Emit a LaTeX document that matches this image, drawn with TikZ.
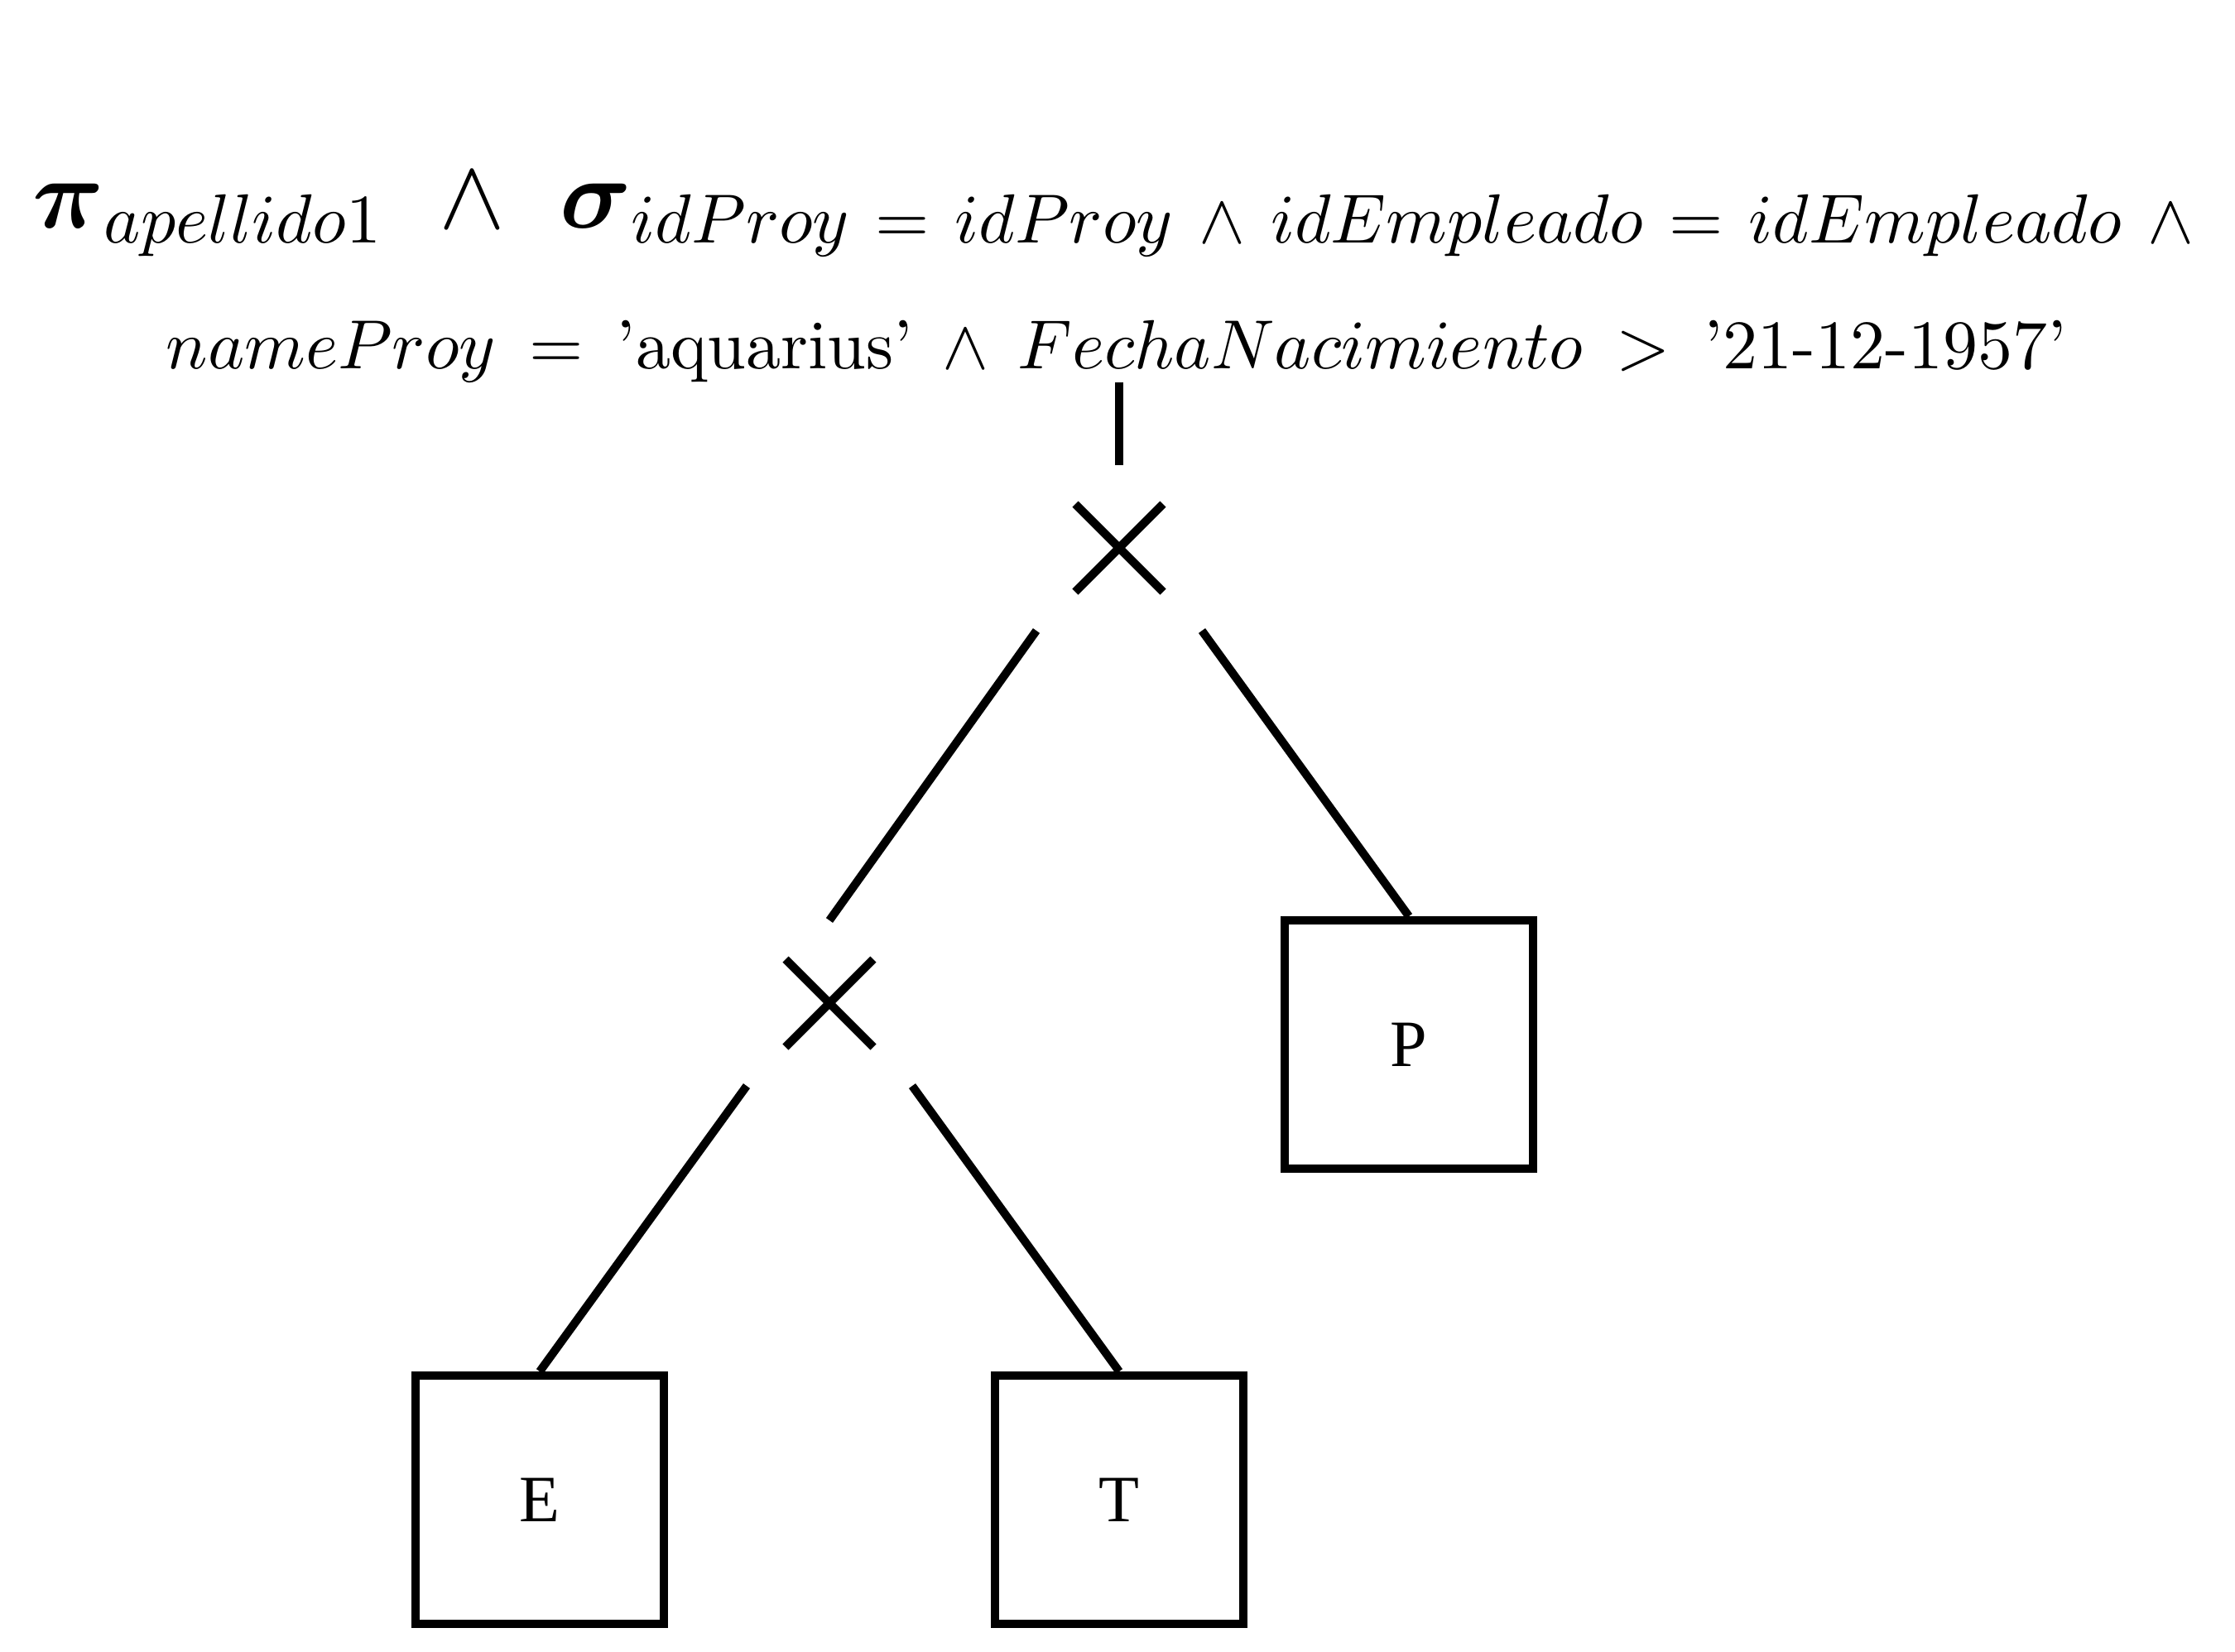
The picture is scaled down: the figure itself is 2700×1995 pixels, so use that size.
\RequirePackage{fix-cm}
\documentclass[tikz,border=0pt]{standalone}
\usepackage{amsmath}
\usepackage{graphicx}
\usepackage{fontspec}
\newfontfamily\boxfont{Liberation Serif}
\usetikzlibrary{shapes.misc}
\DeclareMathSizes{14.2857}{14.2857}{10}{7}
\newcommand{\sgap}{\hskip3.7pt}
\newcommand{\tgap}{\hskip2pt}
\tikzset{
  edge/.style={line width=1pt, draw=black},
  relbox/.style={draw=black, line width=1pt, minimum size=30pt, inner sep=0pt, font=\boxfont\fontsize{8}{9.6}\selectfont},
  joinop/.style={cross out, draw=black, line width=1pt, minimum size=9.6pt, inner sep=0pt},
  formula/.style={anchor=base, inner sep=0pt}
}
\begin{document}
\begin{tikzpicture}[x=0.1pt,y=-0.1pt]
\useasboundingbox (0,0) rectangle (2700,1995);
% formula
\node[formula] (proj) at (1347,275)
  {\scalebox{0.84}{\fontsize{14.2857}{17}\selectfont $\boldsymbol{\pi}_{apellido1}\ \wedge\ \boldsymbol{\sigma}_{idProy\sgap=\sgap idProy\sgap\wedge\sgap idEmpleado\sgap=\sgap idEmpleado\sgap\wedge}$}};
\node[formula] (cond) at (1349,445)
  {\scalebox{0.84}{\fontsize{10}{12}\selectfont $nameProy\tgap=\tgap\mbox{'aquarius'}\tgap\wedge\tgap FechaNacimiento\tgap>\tgap\mbox{'21-12-1957'}$}};
% joins
\node[joinop] (j1) at (1352,662) {};
\node[joinop] (j2) at (1002,1212) {};
% relations
\node[relbox] (P) at (1702,1262) {P};
\node[relbox] (E) at (652,1812) {E};
\node[relbox] (T) at (1352,1812) {T};
% connectors
\draw[edge] ([shift={(0,-200)}]j1.center) -- ([shift={(0,-100)}]j1.center);
\draw[edge] ([shift={(-100,100)}]j1.center) -- ([shift={(0,-100)}]j2.center);
\draw[edge] ([shift={(100,100)}]j1.center) -- (P.north);
\draw[edge] ([shift={(-100,100)}]j2.center) -- (E.north);
\draw[edge] ([shift={(100,100)}]j2.center) -- (T.north);
\end{tikzpicture}
\end{document}
